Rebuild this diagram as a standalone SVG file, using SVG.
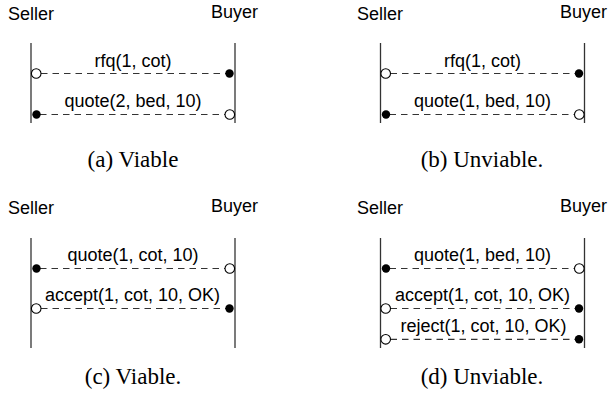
<svg xmlns="http://www.w3.org/2000/svg" width="608" height="405" viewBox="0 0 608 405">
<style>
.role{font-family:"Liberation Sans",Arial,sans-serif;font-size:18px;fill:#000}
.lbl{font-family:"Liberation Sans",Arial,sans-serif;font-size:18px;fill:#000;text-anchor:middle}
.cap{font-family:"Liberation Serif","Times New Roman",serif;font-size:23px;fill:#000;text-anchor:middle}
.life{stroke:#333;stroke-width:1.3;fill:none}
.msg{stroke:#333;stroke-width:1.2;stroke-dasharray:6.5 5;fill:none}
.open{fill:#fff;stroke:#000;stroke-width:1.1}
.fill{fill:#000}
</style>
<rect width="608" height="405" fill="#fff"/>

<!-- Panel (a) -->
<g id="panel-a">
  <g id="a-seller"><text class="role" x="8" y="20">Seller</text><line class="life" x1="31" y1="43" x2="31" y2="123"/></g>
  <g id="a-buyer"><text class="role" x="258" y="18" text-anchor="end">Buyer</text><line class="life" x1="235" y1="43" x2="235" y2="123"/></g>
  <g id="a-connectors">
    <line class="msg" x1="41" y1="73.5" x2="226" y2="73.5"/>
    <circle class="open" cx="36.2" cy="73.5" r="4.8"/>
    <circle class="fill" cx="229.5" cy="73.5" r="4.2"/>
    <text class="lbl" x="133" y="67">rfq(1, cot)</text>
    <line class="msg" x1="40" y1="114.5" x2="225" y2="114.5"/>
    <circle class="fill" cx="36.5" cy="114.5" r="4.2"/>
    <circle class="open" cx="229.8" cy="114.5" r="4.8"/>
    <text class="lbl" x="133" y="107">quote(2, bed, 10)</text>
  </g>
  <text class="cap" x="133" y="167">(a) Viable</text>
</g>

<!-- Panel (b) -->
<g id="panel-b">
  <g id="b-seller"><text class="role" x="357" y="20">Seller</text><line class="life" x1="380.5" y1="43" x2="380.5" y2="123"/></g>
  <g id="b-buyer"><text class="role" x="607" y="18" text-anchor="end">Buyer</text><line class="life" x1="584.5" y1="43" x2="584.5" y2="123"/></g>
  <g id="b-connectors">
    <line class="msg" x1="390.5" y1="73.5" x2="575.5" y2="73.5"/>
    <circle class="open" cx="385.7" cy="73.5" r="4.8"/>
    <circle class="fill" cx="579" cy="73.5" r="4.2"/>
    <text class="lbl" x="482.5" y="67">rfq(1, cot)</text>
    <line class="msg" x1="389.5" y1="114.5" x2="574.5" y2="114.5"/>
    <circle class="fill" cx="386" cy="114.5" r="4.2"/>
    <circle class="open" cx="579.3" cy="114.5" r="4.8"/>
    <text class="lbl" x="482.5" y="107">quote(1, bed, 10)</text>
  </g>
  <text class="cap" x="482" y="167">(b) Unviable.</text>
</g>

<!-- Panel (c) -->
<g id="panel-c">
  <g id="c-seller"><text class="role" x="8" y="214">Seller</text><line class="life" x1="31" y1="238" x2="31" y2="348"/></g>
  <g id="c-buyer"><text class="role" x="258" y="212" text-anchor="end">Buyer</text><line class="life" x1="235" y1="238" x2="235" y2="348"/></g>
  <g id="c-connectors">
    <line class="msg" x1="40" y1="268.5" x2="225" y2="268.5"/>
    <circle class="fill" cx="36.5" cy="268.5" r="4.2"/>
    <circle class="open" cx="229.8" cy="268.5" r="4.8"/>
    <text class="lbl" x="133" y="261">quote(1, cot, 10)</text>
    <line class="msg" x1="41" y1="308.5" x2="226" y2="308.5"/>
    <circle class="open" cx="36.2" cy="308.5" r="4.8"/>
    <circle class="fill" cx="229.5" cy="308.5" r="4.2"/>
    <text class="lbl" x="132.5" y="301">accept(1, cot, 10, OK)</text>
  </g>
  <text class="cap" x="133" y="384">(c) Viable.</text>
</g>

<!-- Panel (d) -->
<g id="panel-d">
  <g id="d-seller"><text class="role" x="357" y="214">Seller</text><line class="life" x1="380.5" y1="238" x2="380.5" y2="348"/></g>
  <g id="d-buyer"><text class="role" x="607" y="212" text-anchor="end">Buyer</text><line class="life" x1="584.5" y1="238" x2="584.5" y2="348"/></g>
  <g id="d-connectors">
    <line class="msg" x1="389.5" y1="268.5" x2="574.5" y2="268.5"/>
    <circle class="fill" cx="386" cy="268.5" r="4.2"/>
    <circle class="open" cx="579.3" cy="268.5" r="4.8"/>
    <text class="lbl" x="482.5" y="261">quote(1, bed, 10)</text>
    <line class="msg" x1="390.5" y1="308.5" x2="575.5" y2="308.5"/>
    <circle class="open" cx="385.7" cy="308.5" r="4.8"/>
    <circle class="fill" cx="579" cy="308.5" r="4.2"/>
    <text class="lbl" x="482.5" y="301">accept(1, cot, 10, OK)</text>
    <line class="msg" x1="390.5" y1="339.3" x2="575.5" y2="339.3"/>
    <circle class="open" cx="385.7" cy="339.3" r="4.8"/>
    <circle class="fill" cx="579" cy="339.3" r="4.2"/>
    <text class="lbl" x="483.5" y="332">reject(1, cot, 10, OK)</text>
  </g>
  <text class="cap" x="482" y="384">(d) Unviable.</text>
</g>
</svg>
